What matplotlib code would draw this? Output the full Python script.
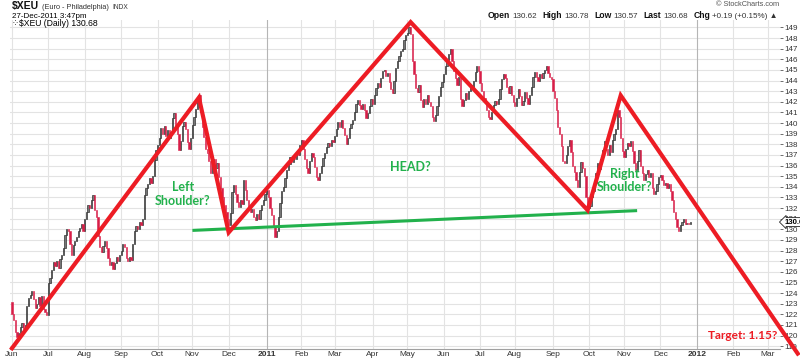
import numpy as np
import pandas as pd
import matplotlib
matplotlib.use('Agg')
import matplotlib.pyplot as plt

plt.rcParams['font.family'] = ['Liberation Sans', 'DejaVu Sans']

# $XEU daily closes, one list per month of trading days
FIRST_OPEN = 123.2
jun10 = [122.0, 121.5, 120.3, 119.9, 120.2, 120.8, 121.2, 120.6, 121.0, 122.8, 123.5,
         123.8, 124.2, 123.4, 122.6, 123.0, 123.6, 122.8, 123.7, 122.5, 122.2, 121.9]
jul10 = [124.9, 125.4, 126.2, 126.9, 126.5, 127.0, 126.4, 127.2, 127.6, 128.2, 129.5,
         130.0, 129.8, 128.6, 127.6, 128.5, 128.9, 129.3, 129.8, 130.1, 130.5, 129.8]
aug10 = [131.0, 131.6, 132.3, 132.0, 132.8, 133.2, 131.8, 131.2, 129.4, 128.3, 127.9,
         128.4, 128.9, 128.2, 127.3, 126.6, 126.9, 126.3, 126.8, 127.4, 127.0, 127.6]
sep10 = [128.0, 128.6, 128.3, 127.3, 127.0, 127.4, 127.1, 128.6, 129.8, 130.3, 130.0,
         130.7, 130.4, 131.0, 133.2, 133.9, 134.3, 134.8, 134.4, 135.0, 136.5, 137.5]
oct10 = [137.9, 138.6, 139.5, 139.0, 139.7, 138.8, 139.3, 138.6, 139.2, 140.5, 140.9,
         139.6, 139.0, 137.5, 138.3, 139.7, 140.1, 139.4, 138.2, 137.6, 138.6]
nov10 = [139.8, 140.6, 141.3, 142.0, 142.6, 141.0, 139.6, 138.7, 137.6, 137.2, 136.4,
         135.3, 136.0, 136.6, 135.8, 136.2, 134.9, 133.9, 133.0, 132.3, 131.6, 131.0]
dec10 = [130.4, 131.5, 133.5, 134.2, 133.3, 132.6, 132.1, 132.8, 132.4, 134.6, 133.7,
         132.8, 132.1, 131.6, 131.9, 131.2, 130.9, 131.4, 131.0, 131.8, 132.3, 132.8, 133.3]
jan11 = [133.7, 133.0, 132.0, 131.3, 130.2, 129.3, 129.8, 131.2, 132.5, 133.6, 134.0,
         134.8, 135.6, 136.1, 136.8, 136.3, 137.0, 136.6, 137.3, 137.0, 137.9]
feb11 = [138.4, 137.6, 136.6, 135.8, 135.3, 136.4, 137.2, 136.8, 135.9, 134.9, 134.6,
         135.3, 136.0, 136.7, 137.2, 137.7, 138.1, 137.8, 138.4, 138.2]
mar11 = [138.8, 139.4, 140.1, 139.6, 140.3, 139.5, 138.9, 138.0, 138.6, 139.5, 139.9,
         140.3, 141.0, 141.8, 142.2, 141.7, 141.3, 141.8, 141.2, 140.5, 140.9, 141.6, 142.3]
apr11 = [141.8, 142.6, 143.3, 143.8, 143.4, 144.2, 144.9, 145.0, 144.4, 144.7, 143.9,
         143.2, 142.8, 144.0, 145.2, 145.8, 146.3, 146.8, 147.0, 147.8, 148.3]
may11 = [148.5, 149.0, 148.4, 145.8, 144.6, 143.3, 142.9, 143.6, 142.2, 141.5, 142.3,
         141.8, 142.6, 142.0, 141.6, 140.6, 140.2, 140.8, 141.6, 142.5, 143.4, 143.9]
jun11 = [144.6, 145.4, 145.9, 146.5, 147.0, 145.8, 144.9, 144.2, 143.6, 144.3, 142.3,
         141.6, 142.2, 142.8, 142.3, 143.0, 143.6, 143.2, 144.0, 144.8, 145.4, 144.9]
jul11 = [143.8, 143.0, 142.4, 142.0, 141.2, 140.6, 140.4, 141.0, 141.7, 142.1, 141.8,
         142.3, 143.2, 144.1, 144.6, 144.2, 143.4, 142.8, 143.5, 142.6, 142.0]
aug11 = [141.6, 142.4, 143.2, 142.5, 141.7, 142.1, 142.9, 142.4, 141.8, 142.6, 143.4,
         144.3, 144.8, 144.3, 144.0, 144.6, 144.2, 144.7, 145.0, 145.4, 144.7, 144.3, 144.1]
sep11 = [143.0, 142.4, 141.2, 139.6, 139.0, 137.8, 136.4, 136.2, 137.0, 137.8, 138.4,
         137.3, 136.0, 135.4, 134.6, 134.0, 135.4, 136.3, 135.8, 135.0, 133.0, 132.0]
oct11 = [132.2, 133.0, 133.6, 134.4, 135.3, 136.2, 135.7, 136.6, 137.5, 138.3, 137.6,
         137.0, 137.9, 137.3, 138.4, 139.0, 139.4, 141.2, 140.6, 138.6, 137.4]
nov11 = [136.8, 137.6, 138.1, 137.8, 138.3, 137.4, 136.2, 135.6, 136.4, 137.5, 136.0,
         135.3, 134.6, 135.2, 135.6, 134.9, 135.3, 133.9, 133.3, 133.6, 134.3, 134.9]
dec11 = [135.1, 134.6, 134.2, 134.4, 133.9, 134.3, 133.6, 132.8, 131.6, 131.0, 130.2,
         129.8, 130.4, 130.7, 131.0, 130.5, 130.6, 130.5, 130.68]

# hand drawn head & shoulders overlay
red_dates = ['2010-06-01', '2010-11-05', '2010-12-01', '2011-05-04',
             '2011-09-30', '2011-10-28', '2012-03-27']
red_values = [118.8, 142.4, 129.7, 149.5, 131.8, 142.6, 118.3]
neck_dates = ['2010-11-02', '2011-11-10']
neck_values = [129.9, 131.75]

LAST = 130.68
quote_labels = ['Open', 'High', 'Low', 'Last', 'Chg']
quote_values = ['130.62', '130.78', '130.57', '130.68', '+0.19 (+0.15%) \u25b2']

MONTHS = ['Jan', 'Feb', 'Mar', 'Apr', 'May', 'Jun', 'Jul', 'Aug', 'Sep', 'Oct', 'Nov', 'Dec']
RED = '#ed1c24'
GREEN = '#22b14c'

closes = np.array(jun10 + jul10 + aug10 + sep10 + oct10 + nov10 + dec10 + jan11 + feb11 +
                  mar11 + apr11 + may11 + jun11 + jul11 + aug11 + sep11 + oct11 + nov11 + dec11)
days = pd.bdate_range('2010-06-01', '2012-03-30')
assert days[len(closes) - 1] == pd.Timestamp('2011-12-27')
pos = pd.Series(np.arange(len(days)), index=days)

x = np.arange(len(closes))
opens = np.r_[FIRST_OPEN, closes[:-1]]
up = closes >= opens

W, H = 800, 359
fig = plt.figure(figsize=(W / 100, H / 100), dpi=100)
ax = fig.add_axes([10 / W, 10 / H, 770 / W, 329 / H])
ax.set_xlim(-1.2, 464.3)
ax.set_ylim(118.73, 149.7)

# grid
for v in range(119, 150):
    ax.axhline(v, color='#e3e3e3', lw=0.8, zorder=0)
month_start = pos.groupby([days.year, days.month]).first()
labels = []
for (yr, mo), i in month_start.items():
    is_year = mo == 1
    ax.axvline(i, color='#b5b5b5' if is_year else '#e3e3e3', lw=0.8, zorder=0)
    labels.append(str(yr) if is_year else MONTHS[mo - 1])

# candles
ax.bar(x[up], closes[up] - opens[up], bottom=opens[up], width=0.75,
       color='#767676', edgecolor='#111111', linewidth=0.4, zorder=2)
ax.bar(x[~up], closes[~up] - opens[~up], bottom=opens[~up], width=0.75,
       color='#d81e48', edgecolor='#d81e48', linewidth=0.4, zorder=2)

# overlay lines
rx = [pos[pd.Timestamp(d)] for d in red_dates]
ax.plot(rx, red_values, color=RED, lw=3, solid_joinstyle='miter', clip_on=False, zorder=5)
nx = [pos[pd.Timestamp(d)] for d in neck_dates]
ax.plot(nx, neck_values, color=GREEN, lw=2.2, zorder=4)

ann = dict(family=['Lato', 'DejaVu Sans'], fontweight='bold', fontsize=9,
           ha='center', va='center', linespacing=1.15, zorder=6)
ax.text(103.4, 133.3, 'Left\nShoulder?', color=GREEN, **ann)
ax.text(240.6, 135.9, 'HEAD?', color=GREEN, **ann)
ax.text(370.6, 134.6, 'Right\nShoulder?', color=GREEN, **ann)
ann['fontsize'] = 8.6
ax.text(442.0, 120.0, 'Target: 1.15?', color=RED, **ann)

# axes styling
for s in ['top', 'left', 'right']:
    ax.spines[s].set_visible(False)
ax.spines['bottom'].set_color('#a0a0a0')
ax.set_xticks(month_start.values)
ax.set_xticklabels(labels)
for lab, yr_mo in zip(ax.get_xticklabels(), month_start.index):
    if yr_mo[1] == 1:
        lab.set_fontweight('bold')
ax.tick_params(axis='x', length=0, pad=1.5, labelsize=6, colors='#333333')
ax.yaxis.tick_right()
ax.set_yticks(range(119, 150))
ax.tick_params(axis='y', length=2, width=0.5, pad=1.5, labelsize=5.8,
               colors='#333333')

ax.annotate(f'{LAST:.2f}', xy=(1.0, LAST), xycoords=('axes fraction', 'data'),
            xytext=(3, 0), textcoords='offset points', fontsize=5.6, fontweight='bold',
            va='center', ha='left', annotation_clip=False, zorder=10,
            bbox=dict(boxstyle='larrow,pad=0.12', fc='white', ec='#222222', lw=0.6))

# header
renderer = fig.canvas.get_renderer()


def text_row(parts, x0, y, align='left'):
    """parts: list of (text, fontsize, bold, color, gap_after_px)"""
    arts = []
    for txt, size, bold, color, gap in parts:
        t = fig.text(0, 1 - y / H, txt, fontsize=size, color=color, va='baseline',
                     fontweight='bold' if bold else 'normal')
        arts.append((t, t.get_window_extent(renderer).width, gap))
    total = sum(w + g for _, w, g in arts) - arts[-1][2]
    cur = x0 - total if align == 'right' else x0
    for t, w, g in arts:
        t.set_x(cur / W)
        cur += w + g


text_row([('$XEU', 7.5, True, '#111111', 3),
          ('(Euro - Philadelphia)', 5.3, False, '#333333', 3),
          ('INDX', 4.8, False, '#333333', 0)], 12, 9)
fig.text(12 / W, 1 - 17.5 / H, '27-Dec-2011 3:47pm', fontsize=5.8, va='baseline')
fig.text(12 / W, 1 - 24 / H, '\u2058', fontsize=6, va='center', family='DejaVu Sans')
fig.text(19 / W, 1 - 24 / H, '$XEU (Daily) 130.68', fontsize=6.2, va='center')
fig.text(779 / W, 1 - 5 / H, '\u00a9 StockCharts.com', fontsize=5.3, va='center',
         ha='right', color='#555555')

parts = []
for lab, val in zip(quote_labels, quote_values):
    parts.append((lab, 6.2, True, '#111111', 2.5))
    parts.append((val, 5.8, False, '#333333', 5))
text_row(parts, 778, 18, align='right')

fig.savefig('out.png', dpi=100)
